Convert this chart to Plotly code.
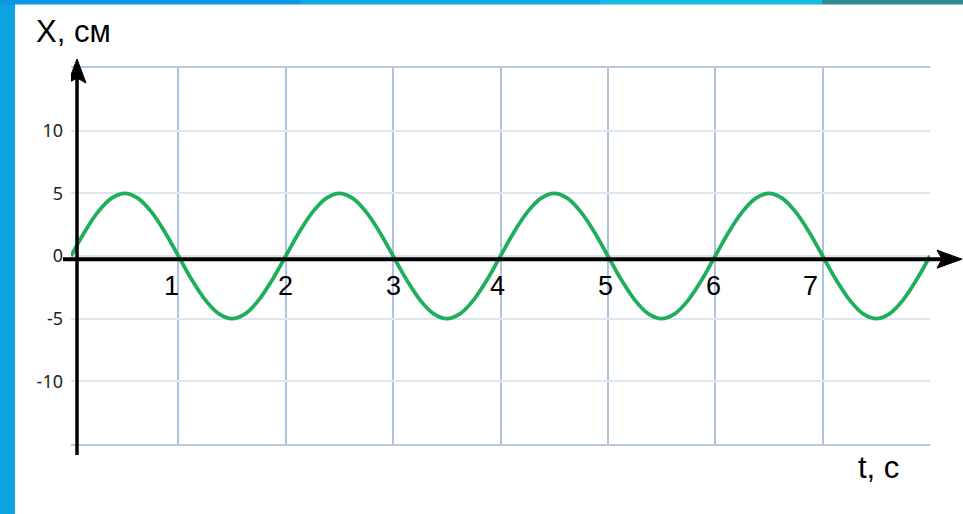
import plotly.graph_objects as go

# ---- data (t in s, X in cm) ----
t_vals = [i * 0.125 for i in range(65)]
half_up = [0.0, 1.9, 3.5, 4.6, 5.0, 4.6, 3.5, 1.9]
half_dn = [0.0, -1.9, -3.5, -4.6, -5.0, -4.6, -3.5, -1.9]
x_vals = (half_up + half_dn) * 4 + [0.0]

y_tickvals = [-10, -5, 0, 5, 10]
y_ticktext = ["-10", "-5", "0", "5", "10"]
x_labels = [1, 2, 3, 4, 5, 6, 7]
x_label_shift = [-7, 0, 0, -3, -2, -2, -12]

fig = go.Figure()
fig.add_trace(go.Scatter(
    x=t_vals, y=x_vals, mode="lines",
    line=dict(color="#1fae5e", width=3.8, shape="spline", smoothing=1.0),
    hoverinfo="skip", showlegend=False,
))

fig.update_layout(
    width=963, height=514,
    margin=dict(l=71, r=33, t=68, b=70),
    paper_bgcolor="white", plot_bgcolor="white",
    showlegend=False,
    xaxis=dict(range=[0, 8], dtick=1, tick0=0, showticklabels=False,
               showgrid=True, gridcolor="#adc3dd", gridwidth=1.5,
               zeroline=False, showline=True, mirror=True,
               linecolor="#b8cadc", linewidth=2, fixedrange=True),
    yaxis=dict(range=[-15, 15], tickvals=y_tickvals, ticktext=y_ticktext,
               showgrid=True, gridcolor="#dde6ef", gridwidth=1.5,
               zeroline=False, showline=False, ticks="",
               ticklabelstandoff=7,
               tickfont=dict(family="Noto Sans", size=18, color="#222"),
               fixedrange=True),
)

shapes = []
# decorative page frame strips
shapes.append(dict(type="rect", xref="paper", yref="paper", x0=-0.11, x1=(15 - 71) / 859,
                   y0=-0.3, y1=1.3, fillcolor="#0ea2e0", line_width=0, layer="below"))
top_cols = [("#0b98e0", -20, 300), ("#10a9e2", 300, 600), ("#17bbe3", 600, 822), ("#2e8a94", 822, 990)]
for c, p0, p1 in top_cols:
    shapes.append(dict(type="rect", xref="paper", yref="paper",
                       x0=(p0 - 71) / 859, x1=(p1 - 71) / 859,
                       y0=(444 - 4.5) / 376, y1=1.3, fillcolor=c, line_width=0, layer="below"))

# black axes
y_axis_x = 0.056
shapes.append(dict(type="line", xref="x", yref="paper", x0=y_axis_x, x1=y_axis_x,
                   y0=(444 - 455) / 376, y1=(444 - 66) / 376,
                   line=dict(color="black", width=3.5)))
shapes.append(dict(type="path", xref="x", yref="paper", xsizemode="pixel", ysizemode="pixel",
                   xanchor=y_axis_x, yanchor=1,
                   path="M 0 9 L -9 -15 L 0 -10 L 9 -15 Z",
                   fillcolor="black", line=dict(color="black", width=1)))
x_axis_y = -0.25
shapes.append(dict(type="line", xref="paper", yref="y", x0=(63 - 71) / 859, x1=(950 - 71) / 859,
                   y0=x_axis_y, y1=x_axis_y, line=dict(color="black", width=4)))
shapes.append(dict(type="path", xref="paper", yref="y", xsizemode="pixel", ysizemode="pixel",
                   xanchor=1, yanchor=x_axis_y,
                   path="M 32 0 L 7 9 L 12 0 L 7 -9 Z",
                   fillcolor="black", line=dict(color="black", width=1)))
fig.update_layout(shapes=shapes)

ann = []
for v, s in zip(x_labels, x_label_shift):
    ann.append(dict(x=v, y=0, xref="x", yref="y", text=str(v), showarrow=False,
                    xanchor="center", yanchor="middle", xshift=s, yshift=-30,
                    font=dict(family="Liberation Sans, Arial", size=27, color="black")))
ann.append(dict(x=(34 - 71) / 859, y=(444 - 31) / 376, xref="paper", yref="paper",
                text="X, см", showarrow=False, xanchor="left", yanchor="middle",
                font=dict(family="Liberation Sans, Arial", size=31, color="black")))
ann.append(dict(x=(856 - 71) / 859, y=(444 - 467) / 376, xref="paper", yref="paper",
                text="t, с", showarrow=False, xanchor="left", yanchor="middle",
                font=dict(family="Liberation Sans, Arial", size=31, color="black")))
fig.update_layout(annotations=ann)

fig.write_html("out.html", config={"displayModeBar": False},
               post_script="document.body.style.margin='0';")
